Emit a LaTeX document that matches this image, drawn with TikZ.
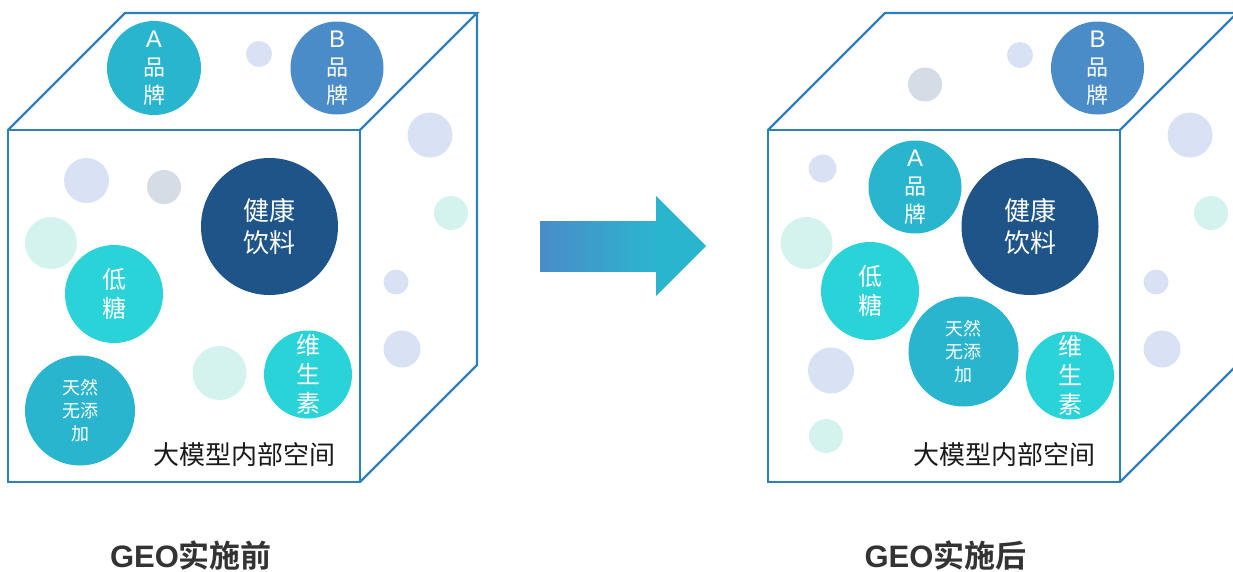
\documentclass[tikz,border=0pt]{standalone}
\usepackage{fontspec}
\setmainfont{Noto Sans CJK SC}
\newfontfamily\cjkbold{Noto Sans CJK SC Bold}
\newfontfamily\latin{Liberation Sans}
\definecolor{edgeblue}{HTML}{2E80B9}
\definecolor{teal}{HTML}{2AB5CF}
\definecolor{brandb}{HTML}{4A8CC8}
\definecolor{navy}{HTML}{1F5488}
\definecolor{cyanc}{HTML}{2AD3D8}
\definecolor{paleblue}{HTML}{D9E2F5}
\definecolor{mint}{HTML}{D4F3EF}
\definecolor{palegray}{HTML}{D5DCE6}
\definecolor{titlegray}{HTML}{333333}
\newcommand{\letterline}[1]{{\latin\fontsize{24}{28}\selectfont #1}}
\tikzset{
  cubeline/.style={draw=edgeblue, line width=2.4pt, line join=miter},
  bubble/.style={circle, inner sep=0pt, minimum size=#1, text=white, align=center},
  dot/.style={circle, inner sep=0pt, minimum size=#1},
  fsA/.style={font=\fontsize{22}{28}\selectfont},
  fsB/.style={font=\fontsize{26}{32}\selectfont},
  fsC/.style={font=\fontsize{24}{29}\selectfont},
  fsD/.style={font=\fontsize{18}{23}\selectfont},
  spacelabel/.style={font=\fontsize{26}{30}\selectfont, text=black!90},
  caption/.style={font=\fontsize{31}{36}\selectfont\cjkbold, text=titlegray},
}
\newcommand{\captiontext}[1]{{\latin\bfseries GEO}#1}
\newcommand{\cubeframe}{%
  \coordinate (fa) at (8,130);
  \coordinate (fb) at (360,130);
  \coordinate (fc) at (360,482);
  \coordinate (fd) at (8,482);
  \coordinate (ta) at (125,13);
  \coordinate (tb) at (477,13);
  \coordinate (tc) at (477,365);
  \draw[cubeline] (fa) -- (fb) -- (fc) -- (fd) -- cycle;
  \draw[cubeline] (fa) -- (ta) -- (tb) -- (fb);
  \draw[cubeline] (tb) -- (tc) -- (fc);
}
\begin{document}
\begin{tikzpicture}[x=1pt, y=-1pt]
\useasboundingbox (0,0) rectangle (1233,571);
\clip (0,0) rectangle (1233,571);

% ---- before ----
\begin{scope}
  \cubeframe
  \node[dot=26pt, fill=paleblue] (l1) at (259,54) {};
  \node[dot=45pt, fill=paleblue] (l2) at (430,135) {};
  \node[dot=34pt, fill=mint] (l3) at (451,213) {};
  \node[dot=25pt, fill=paleblue] (l4) at (396,282) {};
  \node[dot=37pt, fill=paleblue] (l5) at (402,349) {};
  \node[dot=45pt, fill=paleblue] (l6) at (86.5,180.5) {};
  \node[dot=34pt, fill=palegray] (l7) at (164,187) {};
  \node[dot=52pt, fill=mint] (l8) at (51,243) {};
  \node[dot=54pt, fill=mint] (l9) at (219.5,373) {};
  \node[bubble=94pt, fill=teal, fsA] (la) at (154,68) {\letterline{A}\\品\\牌};
  \node[bubble=93pt, fill=brandb, fsA] (lb) at (337,68) {\letterline{B}\\品\\牌};
  \node[bubble=137pt, fill=navy, fsB] (lh) at (269.5,226.5) {健康\\饮料};
  \node[bubble=98pt, fill=cyanc, fsC] (ld) at (114,294) {低\\糖};
  \node[bubble=110pt, fill=teal, fsD] (ln) at (80,410.5) {天然\\无添\\加};
  \node[bubble=88pt, fill=cyanc, fsC] (lv) at (308,374.5) {维\\生\\素};
  \node[spacelabel] (lsp) at (244,455) {大模型内部空间};
  \node[caption] (lt) at (191,556) {\captiontext{实施前}};
\end{scope}

% ---- arrow ----
\shade[left color=brandb, right color=teal] (540,221) rectangle (657,271);
\fill[teal] (656,196) -- (706,246) -- (656,296) -- cycle;

% ---- after ----
\begin{scope}[xshift=760pt]
  \cubeframe
  \node[dot=26pt, fill=paleblue] (r1) at (260,55) {};
  \node[dot=34pt, fill=palegray] (r2) at (165,84.5) {};
  \node[dot=45pt, fill=paleblue] (r3) at (430,135) {};
  \node[dot=34pt, fill=mint] (r4) at (451,213) {};
  \node[dot=25pt, fill=paleblue] (r5) at (396,282) {};
  \node[dot=37pt, fill=paleblue] (r6) at (402,349) {};
  \node[dot=28pt, fill=paleblue] (r7) at (62.5,168.5) {};
  \node[dot=52pt, fill=mint] (r8) at (46.5,243) {};
  \node[dot=46pt, fill=paleblue] (r9) at (71,370.5) {};
  \node[dot=34pt, fill=mint] (r10) at (66,436) {};
  \node[bubble=93pt, fill=brandb, fsA] (rb) at (337.5,68) {\letterline{B}\\品\\牌};
  \node[bubble=93pt, fill=teal, fsA] (ra) at (155,187) {\letterline{A}\\品\\牌};
  \node[bubble=137pt, fill=navy, fsB] (rh) at (270,226.5) {健康\\饮料};
  \node[bubble=98pt, fill=cyanc, fsC] (rd) at (110,291) {低\\糖};
  \node[bubble=110pt, fill=teal, fsD] (rn) at (203.5,351.5) {天然\\无添\\加};
  \node[bubble=88pt, fill=cyanc, fsC] (rv) at (310,375.5) {维\\生\\素};
  \node[spacelabel] (rsp) at (244.5,455) {大模型内部空间};
  \node[caption] (rt) at (185.5,556) {\captiontext{实施后}};
\end{scope}
\end{tikzpicture}
\end{document}
